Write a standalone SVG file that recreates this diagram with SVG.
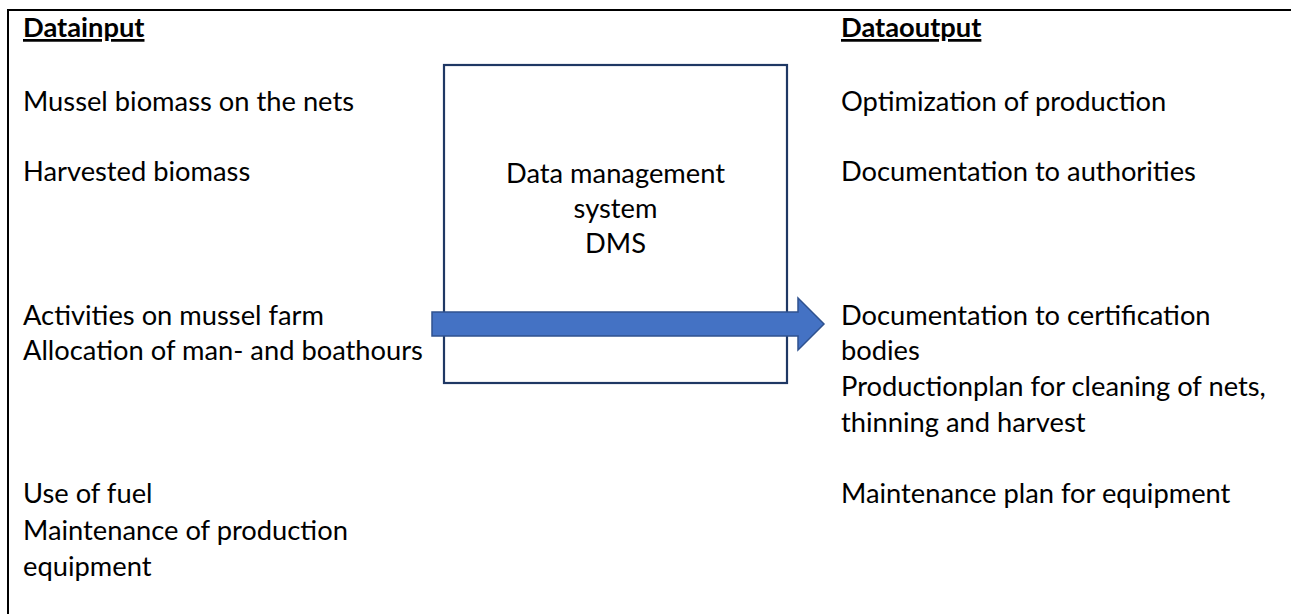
<svg xmlns="http://www.w3.org/2000/svg" width="1291" height="614" viewBox="0 0 1291 614">
<style>
text{font-family:Lato,"Liberation Sans",sans-serif;font-size:27.3px;fill:#000}
.h{font-weight:bold;text-decoration:underline}
.c{text-anchor:middle}
</style>
<rect width="1291" height="614" fill="#fff"/>
<g id="frame">
<line x1="7" y1="10" x2="1291" y2="10" stroke="#000" stroke-width="2"/>
<line x1="8" y1="9" x2="8" y2="614" stroke="#000" stroke-width="2"/>
</g>
<g id="inputs">
<text class="h" x="23" y="37">Datainput</text>
<text x="23" y="111">Mussel biomass on the nets</text>
<text x="23" y="181">Harvested biomass</text>
<text x="23" y="325">Activities on mussel farm</text>
<text x="23" y="360">Allocation of man- and boathours</text>
<text x="23" y="503">Use of fuel</text>
<text x="23" y="540">Maintenance of production</text>
<text x="23" y="576">equipment</text>
</g>
<g id="dms">
<rect x="444" y="65" width="343" height="318" fill="none" stroke="#1F3864" stroke-width="2.2"/>
<text class="c" x="615.5" y="183">Data management</text>
<text class="c" x="615.5" y="218">system</text>
<text class="c" x="615.5" y="253">DMS</text>
</g>
<g id="connectors">
<polygon points="432,312 798,312 798,298 824,324 798,350 798,336 432,336" fill="#4472C4" stroke="#2F528F" stroke-width="1.5"/>
</g>
<g id="outputs">
<text class="h" x="841" y="37">Dataoutput</text>
<text x="841" y="111">Optimization of production</text>
<text x="841" y="181">Documentation to authorities</text>
<text x="841" y="325">Documentation to certification</text>
<text x="841" y="360">bodies</text>
<text x="841" y="396">Productionplan for cleaning of nets,</text>
<text x="841" y="432">thinning and harvest</text>
<text x="841" y="503">Maintenance plan for equipment</text>
</g>
</svg>
